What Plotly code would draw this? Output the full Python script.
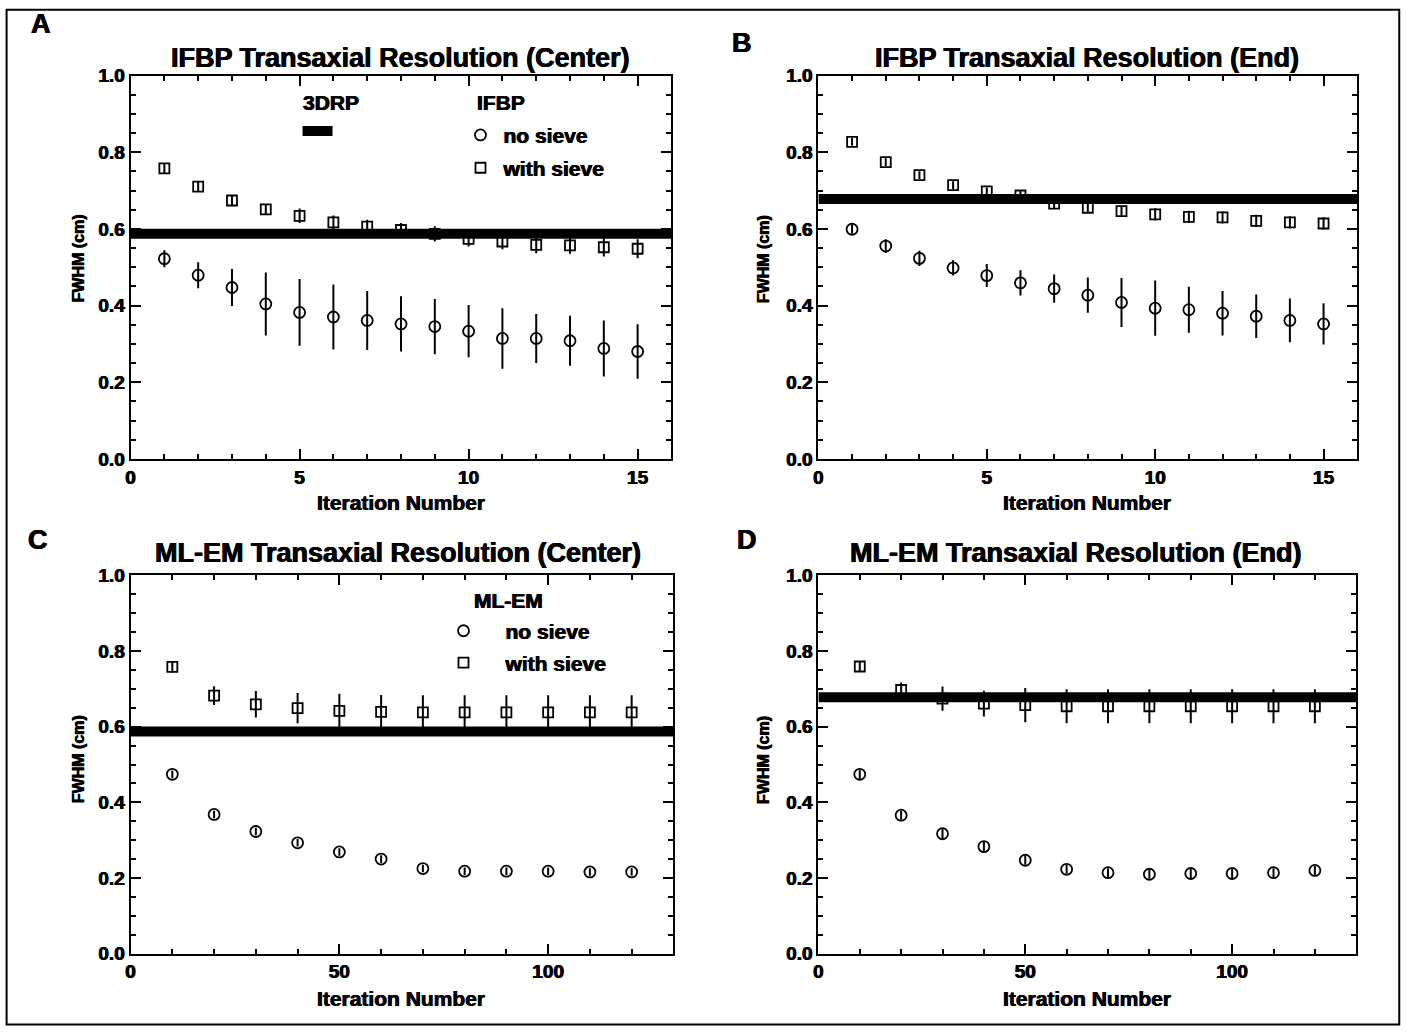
import plotly.graph_objects as go

# ---------------- data ----------------
iter_ifbp = list(range(1, 16))
iter_mlem = [10, 20, 30, 40, 50, 60, 70, 80, 90, 100, 110, 120]

# Panel A: IFBP center
a_nosieve = [0.522, 0.479, 0.447, 0.404, 0.382, 0.370, 0.361, 0.352, 0.345, 0.333, 0.314, 0.314, 0.308, 0.288, 0.280]
a_nosieve_err = [0.022, 0.034, 0.048, 0.082, 0.087, 0.085, 0.077, 0.072, 0.072, 0.068, 0.079, 0.064, 0.065, 0.073, 0.071]
a_sieve = [0.758, 0.710, 0.674, 0.651, 0.634, 0.617, 0.606, 0.597, 0.587, 0.574, 0.567, 0.558, 0.557, 0.552, 0.548]
a_sieve_err = [0.012, 0.012, 0.012, 0.014, 0.019, 0.018, 0.018, 0.018, 0.02, 0.02, 0.02, 0.022, 0.022, 0.024, 0.025]
a_3drp = 0.587

# Panel B: IFBP end
b_nosieve = [0.599, 0.555, 0.523, 0.498, 0.478, 0.459, 0.444, 0.427, 0.408, 0.393, 0.389, 0.380, 0.372, 0.361, 0.352]
b_nosieve_err = [0.012, 0.018, 0.02, 0.02, 0.03, 0.033, 0.037, 0.046, 0.064, 0.072, 0.06, 0.058, 0.057, 0.057, 0.054]
b_sieve = [0.827, 0.774, 0.740, 0.714, 0.698, 0.687, 0.666, 0.655, 0.646, 0.638, 0.631, 0.630, 0.621, 0.617, 0.614]
b_sieve_err = [0.01, 0.01, 0.01, 0.01, 0.01, 0.012, 0.012, 0.014, 0.015, 0.016, 0.016, 0.016, 0.016, 0.016, 0.016]
b_3drp = 0.678

# Panel C: ML-EM center
c_nosieve = [0.474, 0.368, 0.323, 0.293, 0.269, 0.250, 0.225, 0.218, 0.218, 0.218, 0.216, 0.216]
c_nosieve_err = [0.01, 0.01, 0.01, 0.01, 0.01, 0.01, 0.01, 0.01, 0.01, 0.01, 0.01, 0.01]
c_sieve = [0.758, 0.682, 0.659, 0.649, 0.642, 0.639, 0.638, 0.638, 0.638, 0.638, 0.638, 0.638]
c_sieve_err = [0.015, 0.025, 0.035, 0.04, 0.045, 0.045, 0.045, 0.045, 0.045, 0.045, 0.045, 0.045]
c_3drp = 0.587

# Panel D: ML-EM end
d_nosieve = [0.474, 0.366, 0.317, 0.283, 0.247, 0.223, 0.214, 0.210, 0.212, 0.212, 0.214, 0.220]
d_nosieve_err = [0.012, 0.012, 0.012, 0.012, 0.012, 0.012, 0.012, 0.012, 0.012, 0.012, 0.012, 0.012]
d_sieve = [0.759, 0.697, 0.674, 0.661, 0.657, 0.654, 0.654, 0.654, 0.654, 0.654, 0.654, 0.654]
d_sieve_err = [0.012, 0.02, 0.032, 0.034, 0.045, 0.045, 0.045, 0.045, 0.045, 0.045, 0.045, 0.045]
d_3drp = 0.678

x_range_ifbp = [0, 16]
x_range_mlem = [0, 130]

titles = ["IFBP Transaxial Resolution (Center)", "IFBP Transaxial Resolution (End)",
          "ML-EM Transaxial Resolution (Center)", "ML-EM Transaxial Resolution (End)"]
panel_letters = ["A", "B", "C", "D"]
legend_titles = ["3DRP", "IFBP", "ML-EM"]
series_names = ["no sieve", "with sieve"]

# ---------------- geometry helpers (target pixel -> paper) ----------------
W, H = 1406, 1036
def X(x):
    return ((x - 4.4) / 0.9967) / W
def Y(y):
    return 1 - ((y - 7.2) / 0.984) / H

FONT = "Liberation Sans, Arial, Helvetica, sans-serif"
HEAVY = "0.45px 0px 0px black, -0.45px 0px 0px black"
fig = go.Figure()

panels = [
    (iter_ifbp, a_nosieve, a_nosieve_err, a_sieve, a_sieve_err, a_3drp, x_range_ifbp, "x", "y"),
    (iter_ifbp, b_nosieve, b_nosieve_err, b_sieve, b_sieve_err, b_3drp, x_range_ifbp, "x2", "y2"),
    (iter_mlem, c_nosieve, c_nosieve_err, c_sieve, c_sieve_err, c_3drp, x_range_mlem, "x3", "y3"),
    (iter_mlem, d_nosieve, d_nosieve_err, d_sieve, d_sieve_err, d_3drp, x_range_mlem, "x4", "y4"),
]
# legends used for the items of panels A and C
leg_map = {0: ("legend2", "legend3"), 2: ("legend4", "legend5")}

for i, (xs, ns, nse, ws, wse, band, xr, xa, ya) in enumerate(panels):
    fig.add_trace(go.Scatter(
        x=xr, y=[band, band], mode="lines", xaxis=xa, yaxis=ya,
        line=dict(color="black", width=10), name=" ",
        showlegend=(i == 0), legend="legend",
    ))
    lg = leg_map.get(i)
    fig.add_trace(go.Scatter(
        x=xs, y=ns, mode="markers", xaxis=xa, yaxis=ya, name=series_names[0],
        marker=dict(symbol="circle-open", size=11, color="black", line=dict(width=1.8)),
        error_y=dict(type="data", array=nse, color="black", thickness=2, width=0),
        showlegend=lg is not None, legend=lg[0] if lg else "legend",
    ))
    fig.add_trace(go.Scatter(
        x=xs, y=ws, mode="markers", xaxis=xa, yaxis=ya, name=series_names[1],
        marker=dict(symbol="square-open", size=10, color="black", line=dict(width=1.8)),
        error_y=dict(type="data", array=wse, color="black", thickness=2, width=0),
        showlegend=lg is not None, legend=lg[1] if lg else "legend",
    ))

tickfont = dict(family=FONT, size=19, color="black", weight="bold", shadow=HEAVY)

def xaxis(domain, rng, dtick, mdtick, anchor):
    return dict(domain=domain, range=rng, dtick=dtick, tick0=0, anchor=anchor,
                showline=True, linecolor="black", linewidth=2, mirror="allticks",
                ticks="inside", ticklen=10, tickwidth=2, tickcolor="black",
                minor=dict(ticks="inside", ticklen=5, tickwidth=1.5, dtick=mdtick, tickcolor="black"),
                showgrid=False, zeroline=False, tickfont=tickfont)

def yaxis(domain, anchor):
    return dict(domain=domain, range=[0, 1.0], dtick=0.2, tick0=0, anchor=anchor,
                tickformat=".1f",
                showline=True, linecolor="black", linewidth=2, mirror="allticks",
                ticks="inside", ticklen=10, tickwidth=2, tickcolor="black",
                minor=dict(ticks="inside", ticklen=5, tickwidth=1.5, dtick=0.05, tickcolor="black"),
                showgrid=False, zeroline=False, tickfont=tickfont)

legfont = dict(family=FONT, size=21, color="black", weight="bold", shadow=HEAVY)

def single_legend(left, ymid, itemwidth):
    return dict(x=X(left), y=Y(ymid), xanchor="left", yanchor="middle",
                font=legfont, bgcolor="rgba(0,0,0,0)", itemwidth=itemwidth,
                borderwidth=0)

fig.update_layout(
    width=W, height=H, margin=dict(l=0, r=0, t=0, b=0),
    paper_bgcolor="white", plot_bgcolor="white",
    xaxis=xaxis([X(130), X(671)], x_range_ifbp, 5, 1, "y"),
    yaxis=yaxis([Y(458), Y(73)], "x"),
    xaxis2=xaxis([X(818), X(1357)], x_range_ifbp, 5, 1, "y2"),
    yaxis2=yaxis([Y(458), Y(73)], "x2"),
    xaxis3=xaxis([X(130), X(673)], x_range_mlem, 50, 10, "y3"),
    yaxis3=yaxis([Y(955), Y(575)], "x3"),
    xaxis4=xaxis([X(818), X(1356)], x_range_mlem, 50, 10, "y4"),
    yaxis4=yaxis([Y(955), Y(575)], "x4"),
    legend=single_legend(297, 129, 30),
    legend2=single_legend(457, 133, 36),
    legend3=single_legend(457, 166, 36),
    legend4=single_legend(421, 631, 74),
    legend5=single_legend(421, 663, 74),
    showlegend=True,
)

ann = []
def add_text(text, x, y, size, xanchor="center", angle=0):
    ann.append(dict(text=text, x=X(x), y=Y(y), xref="paper", yref="paper", showarrow=False,
                    xanchor=xanchor, yanchor="middle", textangle=angle,
                    font=dict(family=FONT, size=size, color="black", weight="bold", shadow=HEAVY)))

for t, (x, y) in zip(titles, [(400, 55), (1087, 55), (398, 553), (1076, 553)]):
    add_text(t, x, y, 27)
for t, (x, y) in zip(panel_letters, [(40, 21), (742, 40), (37, 540), (747, 540)]):
    add_text(t, x, y, 27)
for (x, y) in [(401, 502), (1087, 502), (401, 1000), (1087, 1000)]:
    add_text("Iteration Number", x, y, 21)
for (x, y) in [(78, 257), (763, 257), (78, 760), (763, 760)]:
    add_text("FWHM (cm)", x, y, 16, angle=-90)
# legend headings
add_text(legend_titles[0], 300, 100, 21, xanchor="left")
add_text(legend_titles[1], 475, 100, 21, xanchor="left")
add_text(legend_titles[2], 472, 600, 21, xanchor="left")
fig.update_layout(annotations=ann)

fig.add_shape(type="rect", xref="paper", yref="paper", x0=X(6), x1=X(1399),
              y0=max(Y(1031), 0.5 / H), y1=Y(7), line=dict(color="black", width=2))

fig.write_html("out.html", config={"displayModeBar": False},
               post_script="document.body.style.margin='0';document.body.style.overflow='hidden';")
